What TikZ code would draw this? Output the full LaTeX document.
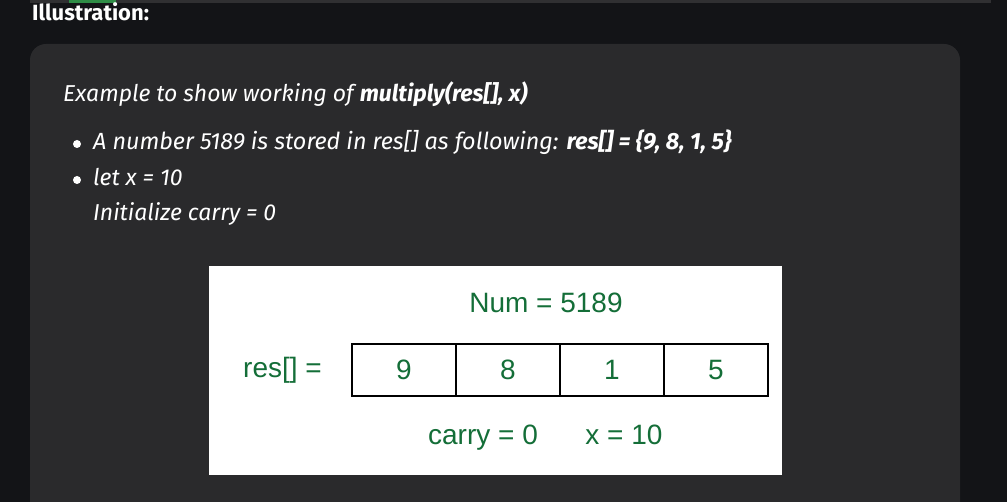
\documentclass[tikz,border=0pt]{standalone}
\usepackage{fontspec}
\setmainfont{Fira Sans}
\newfontfamily\figfont{Liberation Sans}
\usetikzlibrary{positioning}
\definecolor{pagebg}{HTML}{131417}
\definecolor{panelbg}{HTML}{2A2A2C}
\definecolor{barbg}{HTML}{303032}
\definecolor{tabgreen}{HTML}{2F8D46}
\definecolor{figgreen}{HTML}{146E38}
\begin{document}
\begin{tikzpicture}[x=1pt,y=-1pt,
    txt/.style={text=white, inner sep=0pt, anchor=base west, font=\itshape\fontsize{23}{27}\selectfont},
    fig/.style={text=figgreen, inner sep=0pt, font=\figfont\fontsize{28}{32}\selectfont},
    cell/.style={fig, draw=black, line width=1.2pt, minimum width=104pt, minimum height=52pt, outer sep=0pt}]

        \useasboundingbox (0,0) rectangle (1007,502);
        \fill [pagebg] (0,0) rectangle (1007,502);
        \fill [barbg] (30,0) rectangle (991,3.5);
        \fill [tabgreen] (69,0) rectangle (116,3.5);
        \fill [panelbg, rounded corners=16pt] (30,44) rectangle (960,530);

        \node [txt, font=\bfseries\fontsize{22}{26}\selectfont] (title) at (32,21) {Illustration:};

        \node [txt] (head) at (63,102) {Example to show working of \textbf{multiply(res[], x)}};

        \fill [white] (77,144) circle [radius=4];
        \fill [white] (77,180) circle [radius=4];
        \node [txt, font=\itshape\fontsize{23.4}{27}\selectfont] (line1) at (93,150)
            {A number 5189 is stored in res[] as following: \textbf{res[] = \{9, 8, 1, 5\}}};
        \node [txt] (line2) at (93,186) {let x = 10};
        \node [txt] (line3) at (93,221) {Initialize carry = 0};

        \fill [white] (209,266) rectangle (782,475);

        \node [cell] (c1) at (404,370) {9};
        \node [cell, right=0pt of c1] (c2) {8};
        \node [cell, right=0pt of c2] (c3) {1};
        \node [cell, right=0pt of c3] (c4) {5};

        \node [fig, left=30pt of c1] (res) {res[] =};
        \node [fig, anchor=base] (num) at (546,313) {Num = 5189};
        \node [fig, anchor=base] (carry) at (483,445) {carry = 0};
        \node [fig, anchor=base] (xval) at (624,445) {x = 10};

    \end{tikzpicture}
\end{document}
